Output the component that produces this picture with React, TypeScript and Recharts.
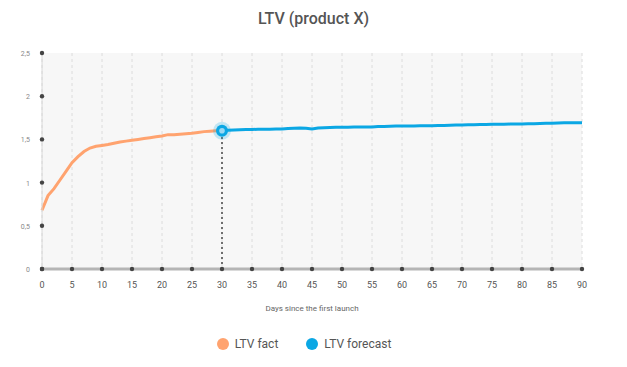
import React from "react";
import { CartesianGrid, Legend, Line, LineChart, ReferenceLine, XAxis, YAxis } from "recharts";

document.body.style.margin = "0";

const FONT = "Roboto, 'Open Sans', sans-serif";

// LTV fact, days 0..30
const factValues = [
  0.68, 0.85, 0.93, 1.03, 1.13, 1.23, 1.3, 1.36, 1.4, 1.42, 1.43, 1.44, 1.455, 1.47, 1.48, 1.49,
  1.5, 1.51, 1.52, 1.53, 1.54, 1.555, 1.555, 1.56, 1.565, 1.57, 1.58, 1.59, 1.595, 1.6, 1.6,
];

// LTV forecast, days 30..90
const forecastValues = [
  1.6, 1.605, 1.61, 1.612, 1.614, 1.615, 1.617, 1.618, 1.618, 1.619, 1.62, 1.625, 1.63, 1.632,
  1.628, 1.62, 1.632, 1.636, 1.638, 1.64, 1.642, 1.642, 1.643, 1.643, 1.643, 1.644, 1.648, 1.65,
  1.652, 1.654, 1.655, 1.656, 1.656, 1.657, 1.657, 1.658, 1.66, 1.662, 1.664, 1.666, 1.668, 1.669,
  1.67, 1.672, 1.673, 1.674, 1.675, 1.676, 1.677, 1.678, 1.679, 1.68, 1.682, 1.684, 1.686, 1.688,
  1.69, 1.692, 1.693, 1.694, 1.694,
];

const FORECAST_START = 30;
const xTicks = [0, 5, 10, 15, 20, 25, 30, 35, 40, 45, 50, 55, 60, 65, 70, 75, 80, 85, 90];
const yTicks = [0, 0.5, 1, 1.5, 2, 2.5];

const ORANGE = "#ffa36f";
const BLUE = "#0ba7e4";

const data = Array.from({ length: 91 }, (_, day) => ({
  day,
  fact: day < factValues.length ? factValues[day] : undefined,
  forecast: day >= FORECAST_START ? forecastValues[day - FORECAST_START] : undefined,
}));

const X_MARGIN = 15;
const Y_MARGIN = 12;

function XTick(props: any) {
  const { x, y, payload } = props;
  return (
    <g>
      <circle cx={x} cy={y - X_MARGIN} r={2.2} fill="#444" />
      <text x={x} y={y} dy={4} textAnchor="middle" fontSize={9} fill="#555" fontFamily={FONT}>
        {payload.value}
      </text>
    </g>
  );
}

function YTick(props: any) {
  const { x, y, payload } = props;
  return (
    <g>
      <circle cx={x + Y_MARGIN} cy={y} r={2.2} fill="#444" />
      <text x={x} y={y} dy={3} textAnchor="end" fontSize={7} fill="#888" fontFamily={FONT}>
        {String(payload.value).replace(".", ",")}
      </text>
    </g>
  );
}

function FocusDot(props: any) {
  const { cx, cy, payload } = props;
  if (payload.day !== FORECAST_START) return <g key={payload.day} />;
  return (
    <g key={payload.day}>
      <circle cx={cx} cy={cy} r={9} fill={BLUE} opacity={0.22} />
      <circle cx={cx} cy={cy} r={6} fill={BLUE} />
      <circle cx={cx} cy={cy} r={2.8} fill="#9ad8f3" />
    </g>
  );
}

function renderLegend(props: any) {
  const { payload } = props;
  return (
    <div style={{ display: "flex", justifyContent: "center", gap: 28, paddingTop: 12, paddingLeft: 14, fontFamily: FONT }}>
      {payload.map((entry: any) => (
        <div key={entry.value} style={{ display: "flex", alignItems: "center", gap: 6 }}>
          <span
            style={{ width: 12, height: 12, borderRadius: "50%", background: entry.color, display: "inline-block" }}
          />
          <span style={{ fontSize: 12, color: "#555" }}>{entry.value}</span>
        </div>
      ))}
    </div>
  );
}

export default function App() {
  return (
    <div style={{ position: "relative", width: 627, height: 367, background: "#fff", fontFamily: FONT }}>
      <div
        style={{
          position: "absolute",
          top: 9,
          left: 0,
          width: 627,
          textAlign: "center",
          fontSize: 16,
          fontWeight: 500,
          color: "#555",
        }}
      >
        LTV (product X)
      </div>
      <LineChart width={627} height={367} data={data} margin={{ top: 53, right: 45, left: 12, bottom: 12 }}>
        <CartesianGrid horizontal={false} fill="#f7f7f7" stroke="#dcdcdc" strokeDasharray="3 3" />
        <XAxis
          dataKey="day"
          type="number"
          domain={[0, 90]}
          ticks={xTicks}
          tickLine={false}
          tickSize={0}
          tickMargin={X_MARGIN}
          tick={<XTick />}
          axisLine={{ stroke: "#b5b5b5", strokeWidth: 3 }}
          height={56}
          label={{
            value: "Days since the first launch",
            position: "insideBottom",
            offset: 14,
            fontSize: 8,
            fill: "#666",
            fontFamily: FONT,
          }}
        />
        <YAxis
          type="number"
          domain={[0, 2.5]}
          ticks={yTicks}
          tickLine={false}
          tickSize={0}
          tickMargin={Y_MARGIN}
          tick={<YTick />}
          axisLine={{ stroke: "#d8d8d8" }}
          width={30}
        />
        <ReferenceLine
          segment={[
            { x: FORECAST_START, y: 0 },
            { x: FORECAST_START, y: forecastValues[0] },
          ]}
          stroke="#444"
          strokeWidth={1.5}
          strokeDasharray="2 3"
        />
        <Line
          name="LTV fact"
          type="linear"
          dataKey="fact"
          stroke={ORANGE}
          strokeWidth={3}
          dot={false}
          activeDot={false}
          isAnimationActive={false}
        />
        <Line
          name="LTV forecast"
          type="linear"
          dataKey="forecast"
          stroke={BLUE}
          strokeWidth={3}
          dot={<FocusDot />}
          activeDot={false}
          isAnimationActive={false}
        />
        <Legend verticalAlign="bottom" height={30} content={renderLegend} />
      </LineChart>
    </div>
  );
}
